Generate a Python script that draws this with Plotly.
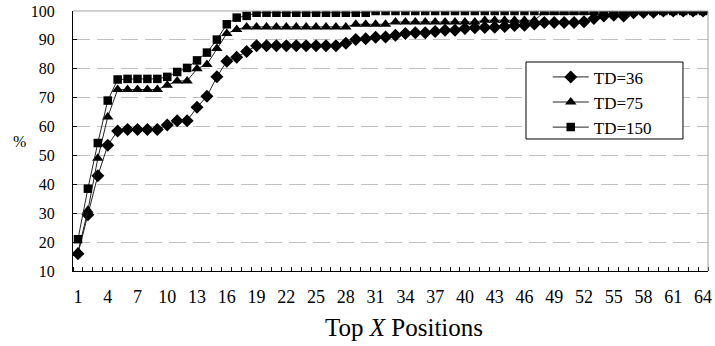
import plotly.graph_objects as go

positions = list(range(1, 65))

td36 = [16, 29.5, 43, 53.5, 58.5, 59, 59, 59, 59, 60.5,
        62, 62, 66.7, 70.5, 77.2, 82.6, 84, 86, 88, 88,
        88, 88, 88, 88, 88, 88, 88, 88.8, 90.1, 90.4,
        90.9, 91, 91.6, 92.2, 92.5, 92.5, 92.9, 93.3, 93.3, 93.9,
        94.2, 94.3, 94.4, 94.6, 95, 95.1, 95.5, 96, 96, 96,
        96, 96.3, 97.4, 98.3, 98.5, 98.3, 99.4, 99.5, 99.6, 100,
        100, 100, 100, 100]

td75 = [16.5, 31, 49, 63.3, 72.8, 72.8, 72.8, 72.8, 72.8, 74.3,
        75.8, 75.8, 80, 81.5, 87, 92.2, 93.6, 94.5, 94.5, 94.5,
        94.5, 94.5, 94.5, 94.5, 94.5, 94.5, 94.5, 94.5, 95.4, 95.4,
        95.4, 95.4, 96.2, 96.2, 96.2, 96.2, 96.2, 96.2, 96.2, 96.2,
        96.2, 96.8, 96.8, 96.8, 96.8, 96.8, 96.8, 99.6, 99.6, 99.6,
        99.6, 99.6, 99.6, 99.6, 100, 100, 100, 100, 100, 100,
        100, 100, 100, 100]

td150 = [21, 38.5, 54.3, 69, 76.3, 76.5, 76.5, 76.5, 76.5, 77.2,
         78.9, 80.3, 82.9, 85.6, 90.1, 95.4, 97.7, 98.3, 99.4, 99.4,
         99.4, 99.4, 99.4, 99.4, 99.4, 99.4, 99.4, 99.4, 99.4, 99.4,
         100, 100, 100, 100, 100, 100, 100, 100, 100, 100,
         100, 100, 100, 100, 100, 100, 100, 100, 100, 100,
         100, 100, 100, 100, 100, 100, 100, 100, 100, 100,
         100, 100, 100, 100]

series_names = ["TD=36", "TD=75", "TD=150"]
x_tick_vals = list(range(1, 65, 3))
x_tick_text = [str(v) for v in x_tick_vals]
y_tick_vals = [10, 20, 30, 40, 50, 60, 70, 80, 90, 100]

FONT = "Liberation Serif, Times New Roman, serif"
LINE = "#222222"

fig = go.Figure()
for name, vals, sym, size in [
    (series_names[0], td36, "diamond", 10),
    (series_names[1], td75, "triangle-up", 10),
    (series_names[2], td150, "square", 8.5),
]:
    fig.add_trace(go.Scatter(
        x=positions, y=vals, name=name, mode="lines+markers",
        line=dict(color=LINE, width=1),
        marker=dict(symbol=sym, size=size, color="black", line=dict(width=0)),
    ))

fig.update_layout(
    width=715, height=346,
    margin=dict(l=73, r=7, t=11, b=75, autoexpand=False),
    paper_bgcolor="white", plot_bgcolor="white",
    font=dict(family=FONT, color="black", size=15),
    showlegend=True,
    legend=dict(
        x=0.713, y=0.814, xanchor="left", yanchor="top",
        bgcolor="rgba(0,0,0,0)", borderwidth=0,
        font=dict(family=FONT, size=17, color="black"),
        itemwidth=36, indentation=22, entrywidth=115, tracegroupgap=0,
    ),
    xaxis=dict(
        range=[0.5, 64.5], tickmode="array", tickvals=x_tick_vals, ticktext=x_tick_text,
        ticks="", showgrid=False, zeroline=False, automargin=False,
        showline=True, linecolor="black", linewidth=1,
        tickfont=dict(family=FONT, size=18, color="black"),
        ticklabelstandoff=9,
        minor=dict(tick0=0.5, dtick=1, ticks="inside", ticklen=4, tickcolor="black", showgrid=False),
    ),
    yaxis=dict(
        range=[10, 100], tickmode="array", tickvals=y_tick_vals,
        ticks="inside", ticklen=4, tickcolor="black",
        showgrid=True, gridcolor="#c0c0c0", gridwidth=1, griddash="17px,7px",
        zeroline=False, showline=True, linecolor="black", linewidth=1, automargin=False,
        tickfont=dict(family=FONT, size=16, color="black"),
        ticklabelstandoff=14,
    ),
    shapes=[
        dict(type="line", xref="paper", yref="paper", x0=0, x1=1, y0=1, y1=1,
             line=dict(color="#a0a0a0", width=1)),
        dict(type="line", xref="paper", yref="paper", x0=1, x1=1, y0=0, y1=1,
             line=dict(color="#a0a0a0", width=1)),
        dict(type="rect", xref="paper", yref="paper", x0=0.7134, x1=0.9606, y0=0.5077, y1=0.8038,
             line=dict(color="black", width=1), fillcolor="white", layer="above"),
    ],
    annotations=[
        dict(text="Top <i>X</i> Positions", xref="paper", yref="paper", x=0.521, y=-0.216,
             xanchor="center", yanchor="middle", showarrow=False,
             font=dict(family=FONT, size=25, color="black")),
        dict(text="%", xref="paper", yref="paper", x=-0.085, y=0.5,
             xanchor="center", yanchor="middle", showarrow=False,
             font=dict(family=FONT, size=16, color="black")),
    ],
)

fig.write_html("out.html", config={"displayModeBar": False},
               post_script="document.body.style.margin='0px';document.body.style.overflow='hidden';")
